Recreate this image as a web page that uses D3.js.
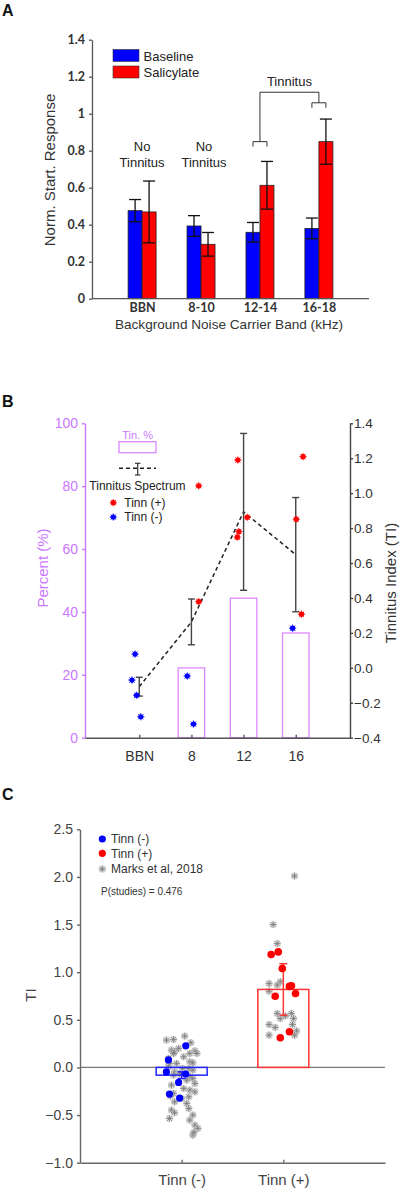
<!DOCTYPE html>
<html><head><meta charset="utf-8">
<script src="https://cdn.jsdelivr.net/npm/d3@7"></script>
<style>
body{margin:0;background:#fff}
svg{display:block;font-family:"Liberation Sans",Arial,sans-serif}
</style>
</head><body>
<svg id="chart" width="400" height="1189"></svg>
<script>
// ---------------- Panel A data ----------------
const bandsA = ["BBN", "8-10", "12-14", "16-18"];
const seriesA = ["Baseline", "Salicylate"];
const baselineMean = [0.476, 0.393, 0.359, 0.380];
const baselineSem = [0.060, 0.056, 0.053, 0.056];
const salicylateMean = [0.469, 0.294, 0.613, 0.849];
const salicylateSem = [0.167, 0.064, 0.129, 0.122];
const ticksA = [0, 0.2, 0.4, 0.6, 0.8, 1, 1.2, 1.4];
const noTinnitusBands = ["BBN", "8-10"];
// bracket levels (value units)
const bracketSmall1214 = 0.849;
const bracketSmall1618 = 1.059;
const bracketBig = 1.116;
const bracketLabel = 1.173;

// ---------------- Panel B data ----------------
const freqsB = ["BBN", "8", "12", "16"];
const tinnPercent = [0, 22.2, 44.4, 33.3];
const spectrumMean = [-0.108, 0.263, 0.893, 0.648];
const spectrumSem = [0.054, 0.131, 0.449, 0.327];
const ticksPctB = [0, 20, 40, 60, 80, 100];
const ticksTIB = [-0.4, -0.2, 0, 0.2, 0.4, 0.6, 0.8, 1.0, 1.2, 1.4];
// individual TI values; off = jitter in category steps
const tinnPlusB = [
  {cat: "8", off: 0.14, ti: 1.042}, {cat: "8", off: 0.14, ti: 0.379},
  {cat: "12", off: -0.11, ti: 1.19}, {cat: "12", off: 0.07, ti: 0.862},
  {cat: "12", off: -0.09, ti: 0.78}, {cat: "12", off: -0.12, ti: 0.748},
  {cat: "16", off: 0.14, ti: 1.209}, {cat: "16", off: 0.01, ti: 0.851},
  {cat: "16", off: 0.11, ti: 0.307}
];
const tinnMinusB = [
  {cat: "BBN", off: -0.08, ti: 0.079}, {cat: "BBN", off: -0.14, ti: -0.07},
  {cat: "BBN", off: -0.05, ti: -0.157}, {cat: "BBN", off: 0.03, ti: -0.28},
  {cat: "8", off: -0.08, ti: -0.047}, {cat: "8", off: 0.04, ti: -0.322},
  {cat: "16", off: -0.06, ti: 0.227}
];

// ---------------- Panel C data ----------------
const groupsC = ["Tinn (-)", "Tinn (+)"];
const meanC = [-0.081, 0.819];
const semC = [0.035, 0.27];
const ticksC = [-1.0, -0.5, 0.0, 0.5, 1.0, 1.5, 2.0, 2.5];
const tinnMinusC = [
  {off: 0.04, ti: 0.227}, {off: -0.13, ti: 0.079}, {off: -0.15, ti: -0.047},
  {off: 0.04, ti: -0.07}, {off: -0.03, ti: -0.157}, {off: -0.12, ti: -0.28},
  {off: -0.02, ti: -0.322}
];
const tinnPlusC = [
  {off: -0.12, ti: 1.186}, {off: -0.05, ti: 1.213}, {off: -0.01, ti: 1.039},
  {off: 0.08, ti: 0.857}, {off: 0.06, ti: 0.851}, {off: 0.12, ti: 0.777},
  {off: -0.08, ti: 0.748}, {off: 0.06, ti: 0.374}, {off: -0.03, ti: 0.311}
];
const marksMinusC = [
  {off: 0.03, ti: 0.329}, {off: -0.08, ti: 0.294}, {off: -0.15, ti: 0.287},
  {off: -0.10, ti: 0.182}, {off: -0.07, ti: 0.164}, {off: -0.08, ti: 0.147},
  {off: 0.08, ti: 0.147}, {off: 0.13, ti: 0.175}, {off: 0.15, ti: 0.147},
  {off: 0.02, ti: 0.112}, {off: -0.13, ti: 0.094}, {off: -0.12, ti: 0.042},
  {off: -0.05, ti: 0.042}, {off: 0.08, ti: 0.059}, {off: 0.11, ti: 0.049},
  {off: -0.13, ti: 0.007}, {off: 0.07, ti: -0.011}, {off: 0.11, ti: -0.028},
  {off: -0.07, ti: -0.046}, {off: -0.02, ti: -0.063}, {off: -0.08, ti: -0.081},
  {off: 0.08, ti: -0.098}, {off: 0.11, ti: -0.116}, {off: 0.05, ti: -0.133},
  {off: 0.13, ti: -0.168}, {off: -0.10, ti: -0.186}, {off: 0.02, ti: -0.221},
  {off: 0.08, ti: -0.238}, {off: 0.13, ti: -0.256}, {off: -0.08, ti: -0.273},
  {off: 0.07, ti: -0.308}, {off: 0.00, ti: -0.326}, {off: -0.07, ti: -0.361},
  {off: 0.05, ti: -0.378}, {off: 0.07, ti: -0.431}, {off: -0.10, ti: -0.448},
  {off: -0.07, ti: -0.476}, {off: 0.11, ti: -0.50}, {off: -0.12, ti: -0.536},
  {off: 0.08, ti: -0.553}, {off: 0.13, ti: -0.605}, {off: 0.16, ti: -0.64},
  {off: 0.11, ti: -0.71}, {off: 0.12, ti: -0.68}, {off: -0.03, ti: 0.20},
  {off: 0.09, ti: 0.26}, {off: -0.11, ti: -0.30}, {off: 0.01, ti: -0.01}
];
const marksPlusC = [
  {off: 0.11, ti: 2.01}, {off: -0.10, ti: 1.50}, {off: -0.06, ti: 1.30},
  {off: -0.03, ti: 0.90}, {off: -0.14, ti: 0.88}, {off: -0.06, ti: 0.864},
  {off: -0.14, ti: 0.80}, {off: -0.06, ti: 0.567}, {off: 0.08, ti: 0.567},
  {off: -0.03, ti: 0.514}, {off: 0.10, ti: 0.514}, {off: -0.14, ti: 0.45},
  {off: -0.08, ti: 0.42}, {off: 0.13, ti: 0.384}, {off: -0.14, ti: 0.339},
  {off: 0.11, ti: 0.339}, {off: 0.02, ti: 0.54}, {off: 0.09, ti: 0.45}
];

// ---------------- Drawing ----------------
const svg = d3.select("#chart");
const BLUE = "#0000ff", RED = "#ff0000", VIOLET = "#cc77ff";

const asterisk = {
  draw(ctx, size) {
    const r = Math.sqrt(size) / 2;
    for (let i = 0; i < 4; i++) {
      const a = i * Math.PI / 4;
      ctx.moveTo(r * Math.cos(a), r * Math.sin(a));
      ctx.lineTo(-r * Math.cos(a), -r * Math.sin(a));
    }
  }
};
const starPath = d3.symbol().type(asterisk).size(46)();
const starSmall = d3.symbol().type(asterisk).size(52)();

function panelLabel(t, y) {
  svg.append("text").attr("x", 2).attr("y", y).attr("font-size", 16)
    .attr("font-weight", "bold").attr("fill", "#111").text(t);
}

// ===== Panel A =====
panelLabel("A", 16);
const gA = svg.append("g");
const yA = d3.scaleLinear([0, 1.4], [298.7, 39.7]);
const xA = d3.scalePoint(bandsA, [92, 369]).padding(0.85);
const xSub = d3.scaleBand(seriesA, [-14, 14]);
const dataA = bandsA.flatMap((b, i) => [
  {band: b, s: "Baseline", m: baselineMean[i], e: baselineSem[i]},
  {band: b, s: "Salicylate", m: salicylateMean[i], e: salicylateSem[i]}
]);
gA.selectAll("rect.bar").data(dataA).join("rect")
  .attr("x", d => xA(d.band) + xSub(d.s))
  .attr("width", xSub.bandwidth())
  .attr("y", d => yA(d.m)).attr("height", d => yA(0) - yA(d.m))
  .attr("fill", d => d.s === "Baseline" ? BLUE : RED)
  .attr("stroke", "#222").attr("stroke-width", 0.8);
const ebA = gA.selectAll("g.eb").data(dataA).join("g")
  .attr("stroke", "#111").attr("stroke-width", 1.3);
const cxA = d => xA(d.band) + xSub(d.s) + xSub.bandwidth() / 2;
ebA.append("line").attr("x1", cxA).attr("x2", cxA)
  .attr("y1", d => yA(d.m + d.e)).attr("y2", d => yA(d.m - d.e));
ebA.append("line").attr("x1", d => cxA(d) - 6).attr("x2", d => cxA(d) + 6)
  .attr("y1", d => yA(d.m + d.e)).attr("y2", d => yA(d.m + d.e));
ebA.append("line").attr("x1", d => cxA(d) - 6).attr("x2", d => cxA(d) + 6)
  .attr("y1", d => yA(d.m - d.e)).attr("y2", d => yA(d.m - d.e));

const axA = gA.append("g").attr("transform", "translate(92,0)")
  .call(d3.axisLeft(yA).tickValues(ticksA).tickSize(3).tickSizeOuter(0).tickPadding(4).tickFormat(d3.format("~g")));
axA.selectAll("text").attr("font-size", 12.5).attr("font-weight", "bold").attr("fill", "#333").attr("font-family", "Lato, 'Liberation Sans', sans-serif");
axA.selectAll("path,line").attr("stroke", "#555").attr("stroke-width", 1.3);
const axAx = gA.append("g").attr("transform", `translate(0,${yA(0)})`)
  .call(d3.axisBottom(xA).tickSize(0).tickPadding(4));
axAx.select("path").attr("d", "M92,0H369").attr("stroke", "#555").attr("stroke-width", 1.3);
axAx.selectAll("text").attr("font-size", 12.5).attr("font-weight", "bold").attr("fill", "#333").attr("font-family", "Lato, 'Liberation Sans', sans-serif");

gA.append("text").attr("x", 229).attr("y", 329).attr("text-anchor", "middle")
  .attr("font-size", 13.6).attr("fill", "#333").text("Background Noise Carrier Band (kHz)");
gA.append("text").attr("transform", "translate(55,170) rotate(-90)").attr("text-anchor", "middle")
  .attr("font-size", 15).attr("fill", "#333").text("Norm. Start. Response");

// legend A
seriesA.forEach((s, i) => {
  gA.append("rect").attr("x", 113).attr("y", 49.5 + i * 16.5).attr("width", 26).attr("height", 12)
    .attr("fill", i ? RED : BLUE).attr("stroke", "#333").attr("stroke-width", 0.6);
  gA.append("text").attr("x", 143.5).attr("y", 60.5 + i * 16.5).attr("font-size", 13).attr("fill", "#222").text(s);
});
// No Tinnitus annotations
noTinnitusBands.forEach((b, i) => {
  const x = xA(b) + i * 3;
  gA.append("text").attr("x", x).attr("y", 150.5).attr("text-anchor", "middle").attr("font-size", 13).attr("fill", "#222").text("No");
  gA.append("text").attr("x", x).attr("y", 167).attr("text-anchor", "middle").attr("font-size", 13).attr("fill", "#222").text("Tinnitus");
});
// Tinnitus brackets
const br = gA.append("g").attr("fill", "none").attr("stroke", "#333").attr("stroke-width", 1);
const c12 = xA("12-14"), c16 = xA("16-18");
const bx1 = c12 + xSub("Baseline") + 7, bx2 = c12 + xSub("Salicylate") + 7;
const bx3 = c16 + xSub("Baseline") + 7, bx4 = c16 + xSub("Salicylate") + 7;
const leg = yA(0) - yA(0.027);
br.append("path").attr("d", `M${bx1},${yA(bracketSmall1214) + leg}V${yA(bracketSmall1214)}H${bx2}V${yA(bracketSmall1214) + leg}`);
br.append("path").attr("d", `M${bx3},${yA(bracketSmall1618) + leg}V${yA(bracketSmall1618)}H${bx4}V${yA(bracketSmall1618) + leg}`);
br.append("path").attr("d", `M${c12},${yA(bracketSmall1214)}V${yA(bracketBig)}H${c16}V${yA(bracketSmall1618)}`);
gA.append("text").attr("x", (c12 + c16) / 2).attr("y", yA(bracketLabel) + 4.5).attr("text-anchor", "middle")
  .attr("font-size", 13).attr("fill", "#222").text("Tinnitus");

// ===== Panel B =====
panelLabel("B", 407);
const gB = svg.append("g");
const yP = d3.scaleLinear([0, 100], [737.7, 423.3]);
const yT = d3.scaleLinear([-0.4, 1.4], [737.7, 423.3]);
const xB = d3.scalePoint(freqsB, [85, 350]).padding(1.04);
const bwB = 26.5;
gB.selectAll("rect.pb").data(freqsB.map((f, i) => ({f, v: tinnPercent[i]})).filter(d => d.v > 0)).join("rect")
  .attr("x", d => xB(d.f) - bwB / 2).attr("width", bwB)
  .attr("y", d => yP(d.v)).attr("height", d => yP(0) - yP(d.v))
  .attr("fill", "#fff").attr("stroke", "#dd88ff").attr("stroke-width", 1.3);

const specData = freqsB.map((f, i) => ({f, m: spectrumMean[i], e: spectrumSem[i]}));
gB.append("path").datum(specData)
  .attr("d", d3.line().x(d => xB(d.f)).y(d => yT(d.m)))
  .attr("fill", "none").attr("stroke", "#222").attr("stroke-width", 1.5).attr("stroke-dasharray", "4,3");
const ebB = gB.selectAll("g.ebB").data(specData).join("g").attr("stroke", "#444").attr("stroke-width", 1.4);
ebB.append("line").attr("x1", d => xB(d.f)).attr("x2", d => xB(d.f)).attr("y1", d => yT(d.m + d.e)).attr("y2", d => yT(d.m - d.e));
ebB.append("line").attr("x1", d => xB(d.f) - 3.5).attr("x2", d => xB(d.f) + 3.5).attr("y1", d => yT(d.m + d.e)).attr("y2", d => yT(d.m + d.e));
ebB.append("line").attr("x1", d => xB(d.f) - 3.5).attr("x2", d => xB(d.f) + 3.5).attr("y1", d => yT(d.m - d.e)).attr("y2", d => yT(d.m - d.e));

function markerB(g, x, y, col) {
  g.append("circle").attr("cx", x).attr("cy", y).attr("r", 2.6).attr("fill", col);
  g.append("path").attr("d", starSmall).attr("transform", `translate(${x},${y})`).attr("stroke", col).attr("stroke-width", 0.9).attr("fill", "none");
}
const stepB = xB.step();
tinnPlusB.forEach(d => markerB(gB, xB(d.cat) + d.off * stepB, yT(d.ti), RED));
tinnMinusB.forEach(d => markerB(gB, xB(d.cat) + d.off * stepB, yT(d.ti), BLUE));

const axBL = gB.append("g").attr("transform", "translate(85,0)")
  .call(d3.axisLeft(yP).tickValues(ticksPctB).tickSize(3).tickSizeOuter(0).tickPadding(4));
axBL.selectAll("path,line").attr("stroke", VIOLET).attr("stroke-width", 1.4);
axBL.selectAll("text").attr("fill", VIOLET).attr("font-size", 14);
const axBR = gB.append("g").attr("transform", "translate(350,0)")
  .call(d3.axisRight(yT).tickValues(ticksTIB).tickSize(3).tickSizeOuter(0).tickPadding(1).tickFormat(d3.format(".1f")));
axBR.selectAll("path,line").attr("stroke", "#444").attr("stroke-width", 1.4);
axBR.selectAll("text").attr("fill", "#333").attr("font-size", 13.5);
const axBX = gB.append("g").attr("transform", `translate(0,${yP(0)})`)
  .call(d3.axisBottom(xB).tickSizeInner(-3).tickSizeOuter(0).tickPadding(13));
axBX.selectAll("path,line").attr("stroke", "#555").attr("stroke-width", 1.4);
axBX.selectAll("text").attr("fill", "#333").attr("font-size", 14);
gB.append("text").attr("transform", "translate(48,568) rotate(-90)").attr("text-anchor", "middle")
  .attr("font-size", 15).attr("fill", VIOLET).text("Percent (%)");
gB.append("text").attr("transform", "translate(396,583) rotate(-90)").attr("text-anchor", "middle")
  .attr("font-size", 15).attr("fill", "#333").text("Tinnitus Index (TI)");

// legend B
gB.append("text").attr("x", 137.7).attr("y", 438.5).attr("text-anchor", "middle").attr("font-size", 11).attr("fill", VIOLET).text("Tin. %");
gB.append("rect").attr("x", 119).attr("y", 441.7).attr("width", 37).attr("height", 11).attr("fill", "#fff").attr("stroke", "#dd88ff").attr("stroke-width", 1.3);
gB.append("line").attr("x1", 119).attr("x2", 156).attr("y1", 468.3).attr("y2", 468.3).attr("stroke", "#222").attr("stroke-width", 1.5).attr("stroke-dasharray", "4,3");
const lgE = gB.append("g").attr("stroke", "#333").attr("stroke-width", 1.2);
lgE.append("line").attr("x1", 137.7).attr("x2", 137.7).attr("y1", 463.3).attr("y2", 475);
lgE.append("line").attr("x1", 135).attr("x2", 140.4).attr("y1", 463.3).attr("y2", 463.3);
lgE.append("line").attr("x1", 135).attr("x2", 140.4).attr("y1", 475).attr("y2", 475);
gB.append("text").attr("x", 137.5).attr("y", 489.5).attr("text-anchor", "middle").attr("font-size", 12).attr("fill", "#222").text("Tinnitus Spectrum");
markerB(gB, 113.3, 502.7, RED);
markerB(gB, 113.3, 517, BLUE);
gB.append("text").attr("x", 124.3).attr("y", 507).attr("font-size", 12).attr("fill", "#222").text("Tinn (+)");
gB.append("text").attr("x", 124.3).attr("y", 521.3).attr("font-size", 12).attr("fill", "#222").text("Tinn (-)");

// ===== Panel C =====
panelLabel("C", 800);
const gC = svg.append("g");
const yC = d3.scaleLinear([-1, 2.5], [1162.7, 829.3]);
const xC = d3.scalePoint(groupsC, [80, 385]).padding(1);
const stepC = xC.step();
const bwC = 51;
const barC = groupsC.map((g, i) => ({g, m: meanC[i], e: semC[i], col: i ? "#ff3333" : "#2222ff"}));
gC.append("line").attr("x1", 80).attr("x2", 385).attr("y1", yC(0)).attr("y2", yC(0)).attr("stroke", "#777").attr("stroke-width", 1.2);

function grayStar(x, y) {
  gC.append("circle").attr("cx", x).attr("cy", y).attr("r", 3.8).attr("fill", "#c4c4c4").attr("opacity", 0.5);
  gC.append("path").attr("d", starPath).attr("transform", `translate(${x},${y})`).attr("stroke", "#7a7a7a").attr("stroke-width", 0.8).attr("fill", "none");
}
marksMinusC.forEach(d => grayStar(xC("Tinn (-)") + d.off * stepC, yC(d.ti)));
marksPlusC.forEach(d => grayStar(xC("Tinn (+)") + d.off * stepC, yC(d.ti)));

gC.selectAll("rect.cb").data(barC).join("rect")
  .attr("x", d => xC(d.g) - bwC / 2).attr("width", bwC)
  .attr("y", d => Math.min(yC(d.m), yC(0))).attr("height", d => Math.abs(yC(0) - yC(d.m)))
  .attr("fill", "none").attr("stroke", d => d.col).attr("stroke-width", 1.5);
const ebC = gC.selectAll("g.ebC").data(barC).join("g").attr("stroke", d => d.col).attr("stroke-width", 1.5);
ebC.append("line").attr("x1", d => xC(d.g)).attr("x2", d => xC(d.g)).attr("y1", d => yC(d.m + d.e)).attr("y2", d => yC(d.m - d.e));
ebC.append("line").attr("x1", d => xC(d.g) - 4).attr("x2", d => xC(d.g) + 4).attr("y1", d => yC(d.m + d.e)).attr("y2", d => yC(d.m + d.e));
ebC.append("line").attr("x1", d => xC(d.g) - 4).attr("x2", d => xC(d.g) + 4).attr("y1", d => yC(d.m - d.e)).attr("y2", d => yC(d.m - d.e));

tinnMinusC.forEach(d => gC.append("circle").attr("cx", xC("Tinn (-)") + d.off * stepC).attr("cy", yC(d.ti)).attr("r", 3.6).attr("fill", BLUE));
tinnPlusC.forEach(d => gC.append("circle").attr("cx", xC("Tinn (+)") + d.off * stepC).attr("cy", yC(d.ti)).attr("r", 3.8).attr("fill", RED));

const axCY = gC.append("g").attr("transform", "translate(80,0)")
  .call(d3.axisLeft(yC).tickValues(ticksC).tickSize(3).tickSizeOuter(0).tickPadding(4).tickFormat(d3.format(".1f")));
axCY.selectAll("path,line").attr("stroke", "#666").attr("stroke-width", 1.4);
axCY.selectAll("text").attr("fill", "#444").attr("font-size", 14);
const axCX = gC.append("g").attr("transform", `translate(0,${yC(-1)})`)
  .call(d3.axisBottom(xC).tickSizeInner(-3).tickSizeOuter(0).tickPadding(12));
axCX.selectAll("path,line").attr("stroke", "#666").attr("stroke-width", 1.4);
axCX.selectAll("text").attr("fill", "#444").attr("font-size", 15);
gC.append("text").attr("transform", "translate(36,995) rotate(-90)").attr("text-anchor", "middle")
  .attr("font-size", 15).attr("fill", "#444").text("TI");

// legend C
gC.append("circle").attr("cx", 102.3).attr("cy", 839).attr("r", 3.6).attr("fill", BLUE);
gC.append("circle").attr("cx", 102.3).attr("cy", 853.3).attr("r", 3.6).attr("fill", RED);
grayStar(102.3, 869);
gC.append("text").attr("x", 111).attr("y", 843.3).attr("font-size", 12).attr("fill", "#333").text("Tinn (-)");
gC.append("text").attr("x", 111).attr("y", 857.6).attr("font-size", 12).attr("fill", "#333").text("Tinn (+)");
gC.append("text").attr("x", 111).attr("y", 873.3).attr("font-size", 12).attr("fill", "#333").text("Marks et al, 2018");
gC.append("text").attr("x", 101).attr("y", 895.3).attr("font-size", 10).attr("fill", "#333").text("P(studies) = 0.476");
</script>
</body></html>
